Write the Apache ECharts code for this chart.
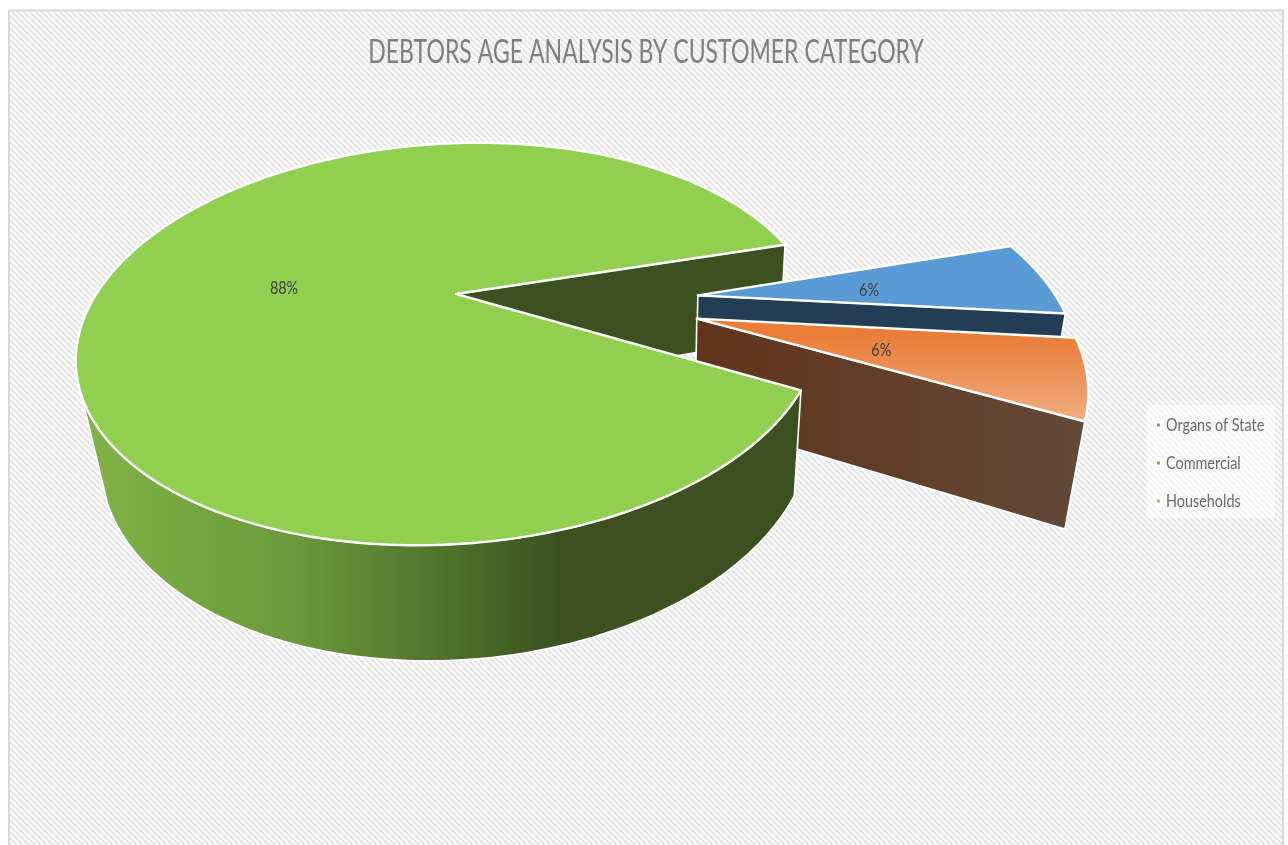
<!DOCTYPE html>
<html>
<head>
<meta charset="utf-8">
<title>Debtors age analysis</title>
<style>html,body{margin:0;padding:0;background:#fff}#chart{width:1288px;height:845px}</style>
<script src="https://cdn.jsdelivr.net/npm/echarts@6/dist/echarts.min.js"></script>
</head>
<body>
<div id="chart"></div>
<script>
// Chart data
const titleText = 'DEBTORS AGE ANALYSIS BY CUSTOMER CATEGORY';
const categories = ['Organs of State', 'Commercial', 'Households'];
const values = [6, 6, 88];

// Slice colours
const topColors = ['#5B9BD5', '#ED7D31', '#90CF50'];
const wallColors = ['#233D56', '#61341B', '#3B5220'];

// Perspective camera for the tilted pie: unit-circle plane to screen
const cam = { x0: 456, y0: 294, a: 354.6, s: -62.2, t: 17.7, b: 188, g: -0.021, h: -0.2476, p: 8, r: 102, q: 0.0412 };
const startDeg = -21.6;
const frontFrom = 21.6, frontTo = 146;   // arc range whose outer wall faces the viewer
const labelRadius = 0.49;
const explode = [[0.672, -0.056], [0.67, 0.064], [0, 0]];
const sideLayer = [2, 4, 1], topLayer = [3, 5, 7];

// Narrow letterforms: the text is drawn in Lato and squeezed horizontally
const font = 'Lato, "Open Sans", sans-serif';
const squeeze = 0.8;

function project(x, y, z) {
  const w = 1 + cam.g * x + cam.h * y + cam.q * z;
  return [
    cam.x0 + (cam.a * x + cam.s * y + cam.p * z) / w,
    cam.y0 + (cam.t * x + cam.b * y + cam.r * z) / w
  ];
}
function rim(off, deg, z, radius) {
  const t = deg * Math.PI / 180, k = radius === undefined ? 1 : radius;
  return project(off[0] + k * Math.cos(t), off[1] + k * Math.sin(t), z);
}
function arc(off, from, to, z) {
  const pts = [], n = Math.max(2, Math.ceil(Math.abs(to - from) / 1.5));
  for (let i = 0; i <= n; i++) pts.push(rim(off, from + (to - from) * i / n, z));
  return pts;
}
function linear(x1, y1, x2, y2, stops) {
  return new echarts.graphic.LinearGradient(x1, y1, x2, y2, stops, true);
}

const total = values.reduce((s, v) => s + v, 0);
const spans = [];
values.reduce((acc, v) => { spans.push([acc, acc + v / total * 360]); return acc + v / total * 360; }, startDeg);

// Fills that shade across a face
function topFill(i) {
  if (i !== 1) return topColors[i];
  return linear(0, 335, 0, 422, [{ offset: 0, color: '#EA7D38' }, { offset: 1, color: '#F0AD82' }]);
}
function sideFill(i) {
  if (i !== 1) return wallColors[i];
  return linear(697, 0, 1067, 0, [{ offset: 0, color: '#61341B' }, { offset: 1, color: '#624837' }]);
}
const frontFill = linear(85, 0, 800, 0, [
  { offset: 0, color: '#80B346' },
  { offset: 0.3, color: '#6A983B' },
  { offset: 0.664, color: '#3B5220' },
  { offset: 1, color: '#3B5220' }
]);

function renderSlice(i) {
  return function (params, api) {
    const off = explode[i], from = spans[i][0], to = spans[i][1];
    const children = [];
    const edge = { stroke: '#fff', lineWidth: 1.6, lineJoin: 'round' };

    // Flat wall along the closing edge of the slice
    children.push({
      type: 'polygon', z2: sideLayer[i],
      shape: { points: [project(off[0], off[1], 0), rim(off, to, 0), rim(off, to, 1), project(off[0], off[1], 1)] },
      style: Object.assign({ fill: sideFill(i) }, edge)
    });
    // Outer curved wall, where it is turned towards the viewer
    const a = Math.max(from, frontFrom), b = Math.min(to, frontTo);
    if (b > a) {
      children.push({
        type: 'polygon', z2: 6,
        shape: { points: arc(off, a, b, 0).concat(arc(off, b, a, 1)) },
        style: Object.assign({ fill: frontFill }, edge)
      });
    }
    // Top face
    children.push({
      type: 'polygon', z2: topLayer[i],
      shape: { points: [project(off[0], off[1], 0)].concat(arc(off, from, to, 0)) },
      style: { fill: topFill(i), stroke: '#fff', lineWidth: 2.4, lineJoin: 'round' }
    });
    // Percentage label at the middle of the slice
    const pos = rim(off, (from + to) / 2, 0, labelRadius);
    children.push({
      type: 'text', z2: 8, x: pos[0], y: pos[1] + 3, scaleX: squeeze,
      style: {
        align: 'center', verticalAlign: 'middle',
        text: Math.round(api.value(0) / total * 100) + '%',
        fill: '#404040', font: '18px ' + font
      }
    });
    return { type: 'group', children };
  };
}

// Diagonal hatch used behind the plot
function hatchTile() {
  const c = document.createElement('canvas');
  c.width = c.height = 6;
  const g = c.getContext('2d');
  g.fillStyle = '#FAFAFA';
  g.fillRect(0, 0, 6, 6);
  g.strokeStyle = '#E6E6E6';
  g.lineWidth = 2;
  for (let k = -6; k <= 12; k += 6) {
    g.beginPath(); g.moveTo(k, 0); g.lineTo(k + 6, 6); g.stroke();
  }
  return c;
}

// Legend: pale panel, small colour keys and squeezed labels
const legendRows = categories.flatMap((name, i) => {
  const y = 425 + i * 38;
  return [
    { type: 'rect', z: 4, silent: true, shape: { x: 1154, y: y - 5, width: 10, height: 10 }, style: { fill: '#fff' } },
    { type: 'rect', z: 5, silent: true, shape: { x: 1157, y: y - 1.5, width: 3, height: 3 }, style: { fill: topColors[i] } },
    {
      type: 'text', z: 5, silent: true, x: 1166, y: y + 0.5, scaleX: squeeze,
      style: { text: name, align: 'left', verticalAlign: 'middle', fill: '#6B6B6B', font: '18px ' + font }
    }
  ];
});

const chart = echarts.init(document.getElementById('chart'), null, { renderer: 'canvas' });
chart.setOption({
  animation: false,
  backgroundColor: '#fff',
  graphic: [
    {
      type: 'rect', z: -1, silent: true,
      shape: { x: 9, y: 10.5, width: 1274, height: 840 },
      style: { fill: { image: hatchTile(), repeat: 'repeat' }, stroke: '#D9D9D9', lineWidth: 2 }
    },
    {
      type: 'text', z: 6, silent: true, x: 646, y: 53, scaleX: 0.72,
      style: { text: titleText, align: 'center', verticalAlign: 'middle', fill: '#7F7F7F', font: '32px ' + font }
    },
    {
      type: 'rect', z: 3, silent: true,
      shape: { x: 1147, y: 405, width: 128, height: 113 },
      style: { fill: 'rgba(255,255,255,0.55)' }
    }
  ].concat(legendRows),
  series: categories.map((name, i) => ({
    type: 'custom',
    name,
    coordinateSystem: 'none',
    itemStyle: { color: topColors[i] },
    renderItem: renderSlice(i),
    data: [{ name, value: values[i] }]
  }))
});
</script>
</body>
</html>
